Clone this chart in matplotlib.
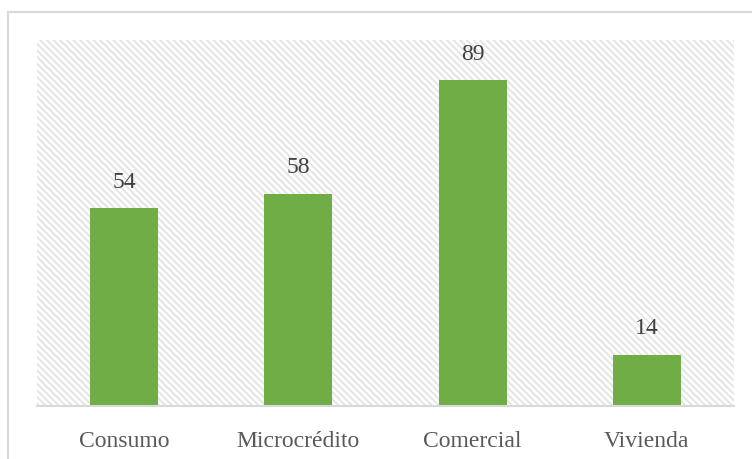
import matplotlib.pyplot as plt
from matplotlib.patches import Rectangle

categorias = ['Consumo', 'Microcrédito', 'Comercial', 'Vivienda']
valores = [54, 58, 89, 14]

plt.rcParams['font.family'] = ['Liberation Serif', 'DejaVu Serif']
plt.rcParams['hatch.color'] = '#e3e3e3'
plt.rcParams['hatch.linewidth'] = 1.3

fig = plt.figure(figsize=(7.52, 4.6), dpi=100)
# marco exterior del grafico
fig.patches.append(Rectangle((7.5 / 752, -0.1), 1.0, 1.1 - 12.5 / 460,
                             transform=fig.transFigure, fill=False,
                             edgecolor='#d9d9d9', linewidth=1.5))

ax = fig.add_axes([37 / 752, 53 / 460, 697 / 752, 366 / 460])
ax.set_facecolor('white')
ax.add_patch(Rectangle((0, 0), 1, 1, transform=ax.transAxes, facecolor='white',
                       edgecolor='#e3e3e3', hatch='\\\\\\\\\\', linewidth=0, zorder=0))

x = range(len(categorias))
barras = ax.bar(x, valores, width=0.39, color='#70ad47', zorder=2)
for xi, v in zip(x, valores):
    ax.text(xi, v + 4.5, str(v), ha='center', va='bottom', fontsize=17, color='#404040')

ax.set_xlim(-0.5, 3.5)
ax.set_ylim(0, 100)
ax.set_xticks(list(x))
ax.set_xticklabels(categorias, fontsize=17, color='#595959')
ax.tick_params(axis='x', length=0, pad=17)
ax.set_yticks([])
for lado in ['top', 'right', 'left']:
    ax.spines[lado].set_visible(False)
ax.spines['bottom'].set_color('#d9d9d9')
ax.spines['bottom'].set_linewidth(1.5)
ax.spines['bottom'].set_zorder(3)

fig.savefig('out.png', dpi=100)
